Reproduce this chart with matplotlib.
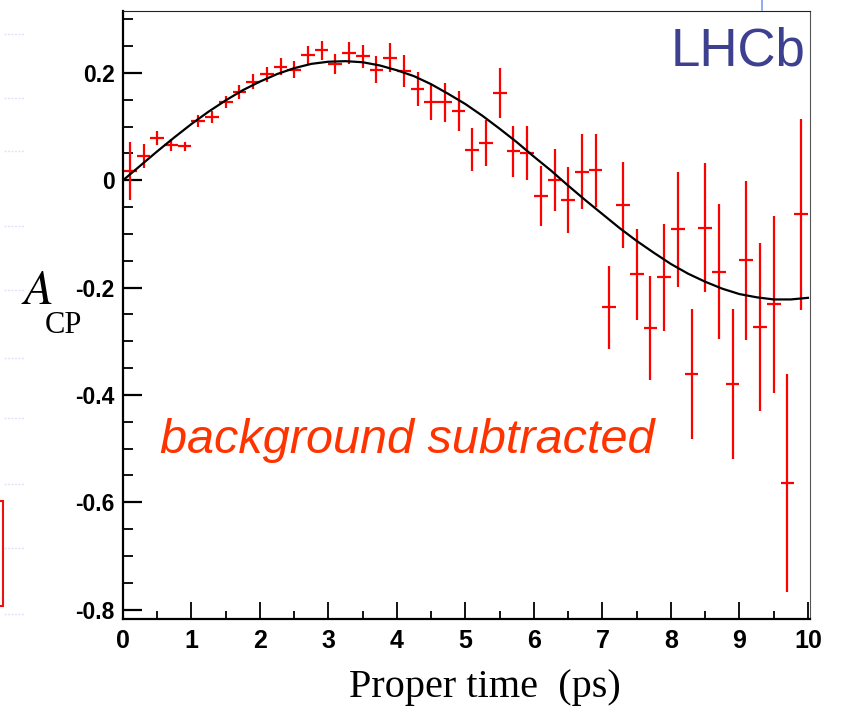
import numpy as np
import matplotlib
matplotlib.use("Agg")
import matplotlib.pyplot as plt
from matplotlib.patches import Rectangle
from matplotlib.lines import Line2D
from matplotlib.ticker import MultipleLocator, FuncFormatter

# bin centres (proper time, ps) and measured asymmetry
t_bins = [0.1, 0.3, 0.5, 0.7, 0.9, 1.1, 1.3, 1.5, 1.7, 1.9,
          2.1, 2.3, 2.5, 2.7, 2.9, 3.1, 3.3, 3.5, 3.7, 3.9,
          4.1, 4.3, 4.5, 4.7, 4.9, 5.1, 5.3, 5.5, 5.7, 5.9,
          6.1, 6.3, 6.5, 6.7, 6.9, 7.1, 7.3, 7.5, 7.7, 7.9,
          8.1, 8.3, 8.5, 8.7, 8.9, 9.1, 9.3, 9.5, 9.7, 9.9]
acp = [0.017, 0.045, 0.078, 0.066, 0.063, 0.110, 0.118, 0.146, 0.165, 0.184,
       0.198, 0.212, 0.206, 0.233, 0.242, 0.217, 0.237, 0.231, 0.206, 0.228,
       0.203, 0.170, 0.146, 0.145, 0.129, 0.057, 0.070, 0.163, 0.054, 0.051,
       -0.029, 0.000, -0.037, 0.016, 0.019, -0.237, -0.046, -0.175, -0.275, -0.181,
       -0.091, -0.361, -0.088, -0.170, -0.380, -0.149, -0.273, -0.231, -0.564, -0.063]
acp_err = [0.054, 0.022, 0.013, 0.011, 0.009, 0.011, 0.012, 0.012, 0.013, 0.014,
           0.014, 0.015, 0.016, 0.017, 0.018, 0.019, 0.020, 0.021, 0.025, 0.027,
           0.030, 0.031, 0.034, 0.036, 0.037, 0.040, 0.043, 0.046, 0.048, 0.051,
           0.056, 0.058, 0.061, 0.070, 0.068, 0.078, 0.080, 0.085, 0.097, 0.100,
           0.107, 0.122, 0.121, 0.125, 0.140, 0.148, 0.156, 0.165, 0.203, 0.178]
half_bin = 0.1

# fitted curve, every 0.25 ps
t_fit = [0.0, 0.25, 0.5, 0.75, 1.0, 1.25, 1.5, 1.75, 2.0, 2.25,
         2.5, 2.75, 3.0, 3.25, 3.5, 3.75, 4.0, 4.25, 4.5, 4.75,
         5.0, 5.25, 5.5, 5.75, 6.0, 6.25, 6.5, 6.75, 7.0, 7.25,
         7.5, 7.75, 8.0, 8.25, 8.5, 8.75, 9.0, 9.25, 9.5, 9.75, 10.0]
acp_fit = [0.000, 0.027, 0.054, 0.080, 0.105, 0.128, 0.149, 0.168, 0.184, 0.198,
           0.209, 0.217, 0.221, 0.222, 0.220, 0.214, 0.205, 0.194, 0.179, 0.161,
           0.142, 0.120, 0.096, 0.071, 0.044, 0.018, -0.010, -0.037, -0.063, -0.089,
           -0.113, -0.135, -0.156, -0.174, -0.189, -0.202, -0.212, -0.218, -0.222, -0.222, -0.219]

fig = plt.figure(figsize=(8.43, 7.15), dpi=100)
ax = fig.add_axes([123/843, 96/715, 687/843, 608/715])

ax.errorbar(t_bins, acp, xerr=half_bin, yerr=acp_err, fmt='none',
            ecolor='#ff0000', elinewidth=1.6, capsize=0, zorder=2)
ax.plot(t_fit, acp_fit, color='black', lw=1.6, zorder=3)

ax.set_xlim(0, 10.03)
ax.set_ylim(-0.8175, 0.3155)

ax.xaxis.set_major_locator(MultipleLocator(1))
ax.xaxis.set_minor_locator(MultipleLocator(0.5))
ax.yaxis.set_major_locator(MultipleLocator(0.2))
ax.yaxis.set_minor_locator(MultipleLocator(0.05))
ax.yaxis.set_major_formatter(FuncFormatter(lambda v, p: "0" if abs(v) < 1e-9 else f"{v:.1f}"))

ax.tick_params(axis='both', which='both', direction='in', top=False, right=False)
ax.tick_params(axis='x', which='major', length=12, width=1.3, pad=7)
ax.tick_params(axis='x', which='minor', length=6, width=1.3)
ax.tick_params(axis='y', which='major', length=14, width=1.6, pad=6)
ax.tick_params(axis='y', which='minor', length=7, width=1.3)

for lab in ax.get_xticklabels():
    lab.set_family(['Liberation Sans', 'DejaVu Sans'])
    lab.set_fontweight('bold')
    lab.set_fontsize(18)
for lab in ax.get_yticklabels():
    lab.set_family(['Liberation Sans', 'DejaVu Sans'])
    lab.set_fontweight('bold')
    lab.set_fontsize(16.5)

ax.spines['left'].set_linewidth(1.6)
ax.spines['bottom'].set_linewidth(1.6)
ax.spines['top'].set_linewidth(0.8)
ax.spines['right'].set_linewidth(0.8)
ax.spines['top'].set_color('#222222')
ax.spines['right'].set_color('#555555')

fig.text(485/843, 1 - 688/715, "Proper time  (ps)", family='Liberation Serif',
         fontsize=29, ha='center', va='center')
fig.text(21/843, 1 - 304/715, "$A$", fontsize=35, ha='left', va='baseline',
         math_fontfamily='stix')
fig.text(45/843, 1 - 333/715, "CP", family='Liberation Serif', fontsize=22,
         ha='left', va='baseline')

ax.text(0.993, 0.911, "LHCb", transform=ax.transAxes, family='Liberation Sans',
        fontsize=38, color='#3d3f8f', ha='right', va='baseline')
ax.text(407/843, 1 - 453/715, "background subtracted", transform=fig.transFigure,
        family='Liberation Sans', style='italic', fontsize=35, color='#ff3300',
        ha='center', va='baseline')

# slide remnants around the plot
fig.patches.append(Rectangle((-0.01, 1 - 606/715), 11/843, 105/715, transform=fig.transFigure,
                             fill=False, edgecolor='#ee1111', lw=1.5))
fig.lines.append(Line2D([762/843, 762/843], [1.0, 1 - 10/715], transform=fig.transFigure,
                        color='#7f9cf0', lw=1.2))
for yy in [34, 98, 151, 226, 290, 358, 418, 484, 548, 614]:
    fig.lines.append(Line2D([4/843, 24/843], [1 - yy/715] * 2, transform=fig.transFigure,
                            color='#dfe4f7', lw=1, ls=(0, (1.5, 1))))

fig.savefig("out.png", dpi=100)
